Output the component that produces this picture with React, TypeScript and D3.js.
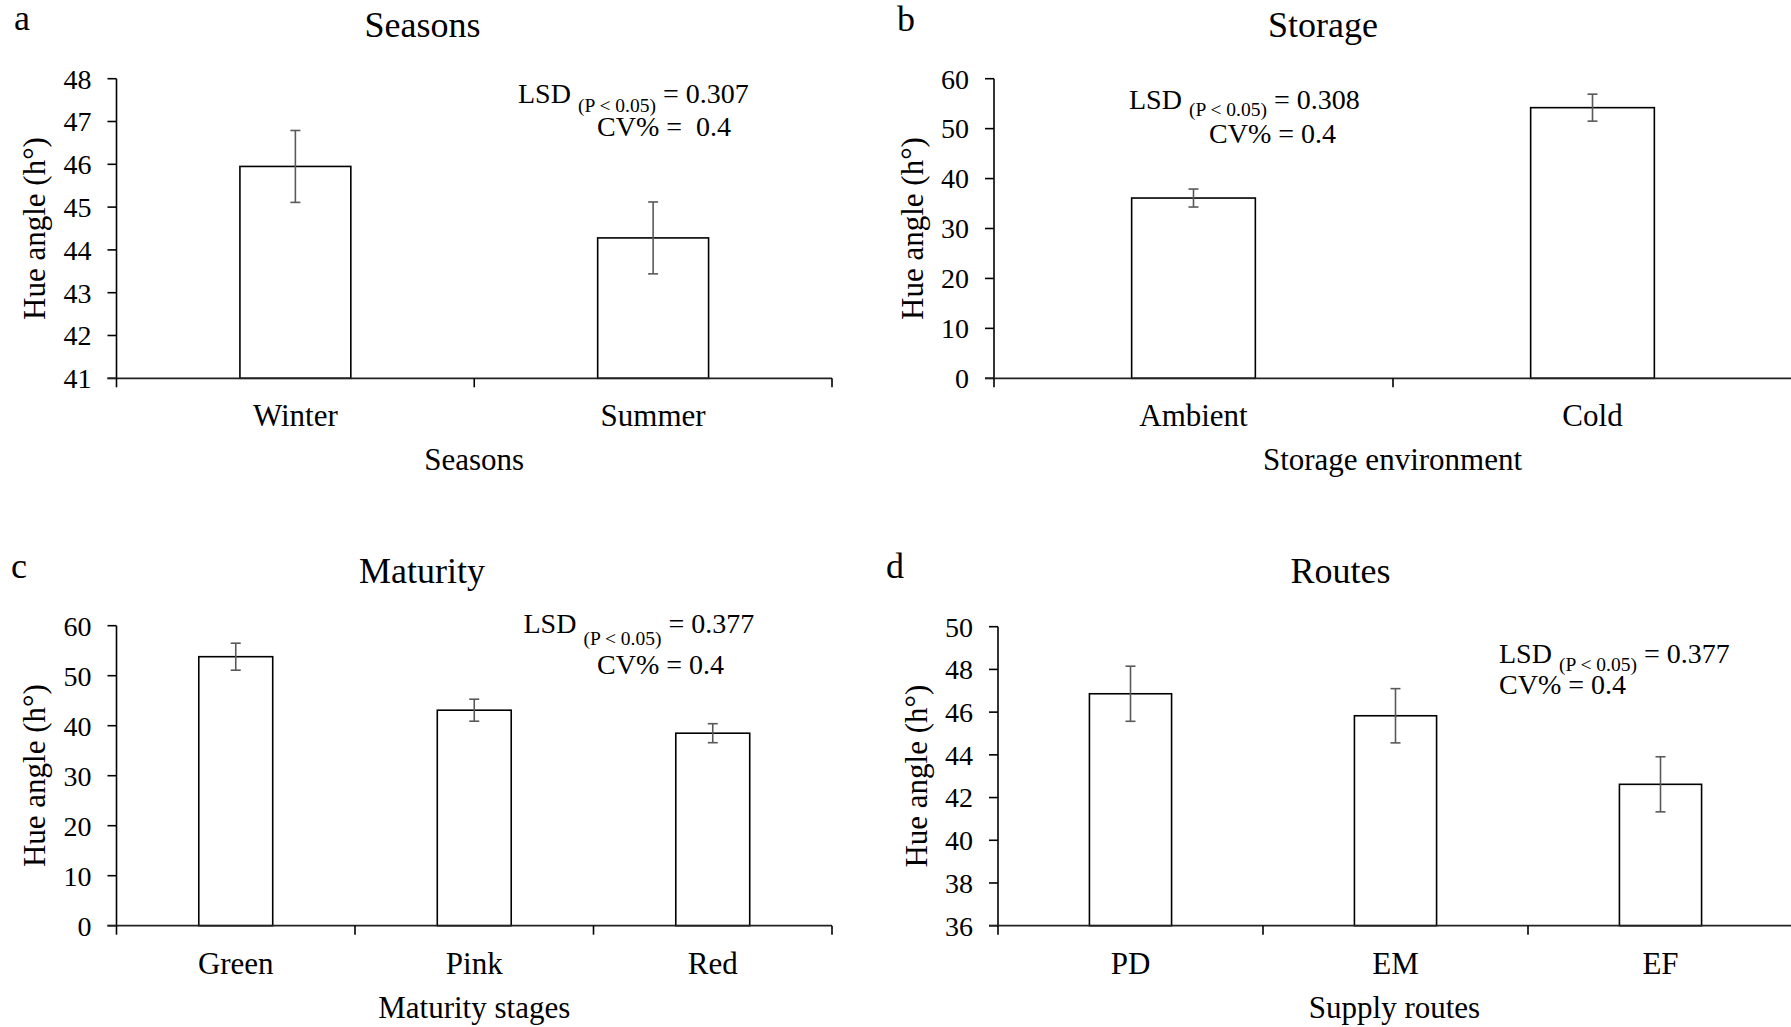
import React, { useEffect } from "react";
import * as d3 from "d3";

// ---------- data ----------
const seasonsCats = ["Winter", "Summer"];
const seasonsVals = [45.95, 44.28];
const seasonsErr = [0.84, 0.84];
const seasonsTicks = [41, 42, 43, 44, 45, 46, 47, 48];

const storageCats = ["Ambient", "Cold"];
const storageVals = [36.1, 54.2];
const storageErr = [1.8, 2.7];
const storageTicks = [0, 10, 20, 30, 40, 50, 60];

const maturityCats = ["Green", "Pink", "Red"];
const maturityVals = [53.8, 43.1, 38.5];
const maturityErr = [2.7, 2.2, 1.9];
const maturityTicks = [0, 10, 20, 30, 40, 50, 60];

const routesCats = ["PD", "EM", "EF"];
const routesVals = [46.86, 45.83, 42.62];
const routesErr = [1.29, 1.27, 1.29];
const routesTicks = [36, 38, 40, 42, 44, 46, 48, 50];

const FONT = "'Liberation Serif', 'Times New Roman', serif";

type PanelProps = {
  cats: string[];
  vals: number[];
  errs: number[];
  ticks: number[];
  title: string;
  xTitle: string;
  letter: string;
  lsd: string;
  cv: string;
  layout: {
    x0: number; x1: number; yTop: number; yBot: number;
    titleX: number; titleY: number; letterX: number; letterY: number;
    lsdX: number; lsdY: number; subDy: number; cvX: number; cvY: number;
  };
};

function Panel({ cats, vals, errs, ticks, title, xTitle, letter, lsd, cv, layout }: PanelProps) {
  const L = layout;
  const y = d3.scaleLinear().domain([ticks[0], ticks[ticks.length - 1]]).range([L.yBot, L.yTop]);
  const x = d3.scaleBand<string>().domain(cats).range([L.x0, L.x1]).paddingInner(0.69).paddingOuter(0.345);
  const step = x.step();
  const bounds = d3.range(cats.length + 1).map((i) => L.x0 + i * step);
  const yLabelX = L.x0 - 71.5;
  const yMid = (L.yTop + L.yBot) / 2;
  return (
    <g fontFamily={FONT} fill="#000">
      <text x={L.letterX} y={L.letterY} fontSize={36}>{letter}</text>
      <text x={L.titleX} y={L.titleY} fontSize={36} textAnchor="middle">{title}</text>
      {/* bars */}
      {cats.map((c, i) => (
        <rect key={c} x={x(c)} y={y(vals[i])} width={x.bandwidth()} height={L.yBot - y(vals[i])}
          fill="#fff" stroke="#000" strokeWidth={1.6} />
      ))}
      {/* error bars */}
      {cats.map((c, i) => {
        const cx = (x(c) as number) + x.bandwidth() / 2;
        const hi = y(vals[i] + errs[i]);
        const lo = y(vals[i] - errs[i]);
        return (
          <g key={"e" + c} stroke="#595959" strokeWidth={1.6}>
            <line x1={cx} x2={cx} y1={hi} y2={lo} />
            <line x1={cx - 5} x2={cx + 5} y1={hi} y2={hi} />
            <line x1={cx - 5} x2={cx + 5} y1={lo} y2={lo} />
          </g>
        );
      })}
      {/* y axis */}
      <line x1={L.x0} x2={L.x0} y1={L.yTop} y2={L.yBot} stroke="#000" strokeWidth={1.6} />
      {ticks.map((t) => (
        <g key={"t" + t}>
          <line x1={L.x0 - 9} x2={L.x0} y1={y(t)} y2={y(t)} stroke="#000" strokeWidth={1.6} />
          <text x={L.x0 - 25} y={y(t)} dy="0.35em" fontSize={28} textAnchor="end">{t}</text>
        </g>
      ))}
      {/* x axis */}
      <line x1={L.x0 - 9} x2={L.x1} y1={L.yBot} y2={L.yBot} stroke="#222" strokeWidth={1.8} />
      {bounds.map((bx, i) => (
        <line key={"b" + i} x1={bx} x2={bx} y1={L.yBot} y2={L.yBot + 9} stroke="#000" strokeWidth={1.6} />
      ))}
      {cats.map((c) => (
        <text key={"l" + c} x={(x(c) as number) + x.bandwidth() / 2} y={L.yBot + 48} fontSize={31} textAnchor="middle">{c}</text>
      ))}
      <text x={(L.x0 + Math.min(L.x1, 1791 + (L.x1 - L.x0) * 0)) / 2 + 0} y={L.yBot + 92} fontSize={31} textAnchor="middle">{xTitle}</text>
      <text transform={`translate(${yLabelX},${yMid}) rotate(-90)`} fontSize={31} textAnchor="middle">Hue angle (h°)</text>
      {/* annotation */}
      <text x={L.lsdX} y={L.lsdY} fontSize={28} style={{ whiteSpace: "pre" }}>
        LSD <tspan fontSize={19.5} dy={L.subDy}>(P &lt; 0.05)</tspan>
        <tspan dy={-L.subDy}>{" = " + lsd}</tspan>
      </text>
      <text x={L.cvX} y={L.cvY} fontSize={28} style={{ whiteSpace: "pre" }}>{cv}</text>
    </g>
  );
}

export default function App() {
  useEffect(() => {
    document.body.style.margin = "0";
    document.body.style.overflow = "hidden";
  }, []);
  return (
    <svg width={1791} height={1027} style={{ position: "absolute", left: 0, top: 0, background: "#fff" }}>
      <rect width={1791} height={1027} fill="#fff" />
      <Panel cats={seasonsCats} vals={seasonsVals} errs={seasonsErr} ticks={seasonsTicks}
        title="Seasons" xTitle="Seasons" letter="a" lsd="0.307" cv="CV% =  0.4"
        layout={{ x0: 116.5, x1: 832, yTop: 78.7, yBot: 378.3, titleX: 422.5, titleY: 36.5, letterX: 14, letterY: 30,
          lsdX: 518, lsdY: 103.3, subDy: 8.4, cvX: 597, cvY: 136 }} />
      <Panel cats={storageCats} vals={storageVals} errs={storageErr} ticks={storageTicks}
        title="Storage" xTitle="Storage environment" letter="b" lsd="0.308" cv="CV% = 0.4"
        layout={{ x0: 994, x1: 1792, yTop: 78.7, yBot: 378.3, titleX: 1323, titleY: 36.5, letterX: 897, letterY: 31,
          lsdX: 1129, lsdY: 109, subDy: 7, cvX: 1209, cvY: 142.7 }} />
      <Panel cats={maturityCats} vals={maturityVals} errs={maturityErr} ticks={maturityTicks}
        title="Maturity" xTitle="Maturity stages" letter="c" lsd="0.377" cv="CV% = 0.4"
        layout={{ x0: 116.5, x1: 832, yTop: 625.7, yBot: 925.7, titleX: 422, titleY: 583, letterX: 11, letterY: 578,
          lsdX: 523.5, lsdY: 633, subDy: 12, cvX: 597, cvY: 674 }} />
      <Panel cats={routesCats} vals={routesVals} errs={routesErr} ticks={routesTicks}
        title="Routes" xTitle="Supply routes" letter="d" lsd="0.377" cv="CV% = 0.4"
        layout={{ x0: 998, x1: 1793, yTop: 626.7, yBot: 925.7, titleX: 1340.6, titleY: 583, letterX: 886, letterY: 578,
          lsdX: 1499, lsdY: 663, subDy: 8, cvX: 1499, cvY: 694 }} />
    </svg>
  );
}
